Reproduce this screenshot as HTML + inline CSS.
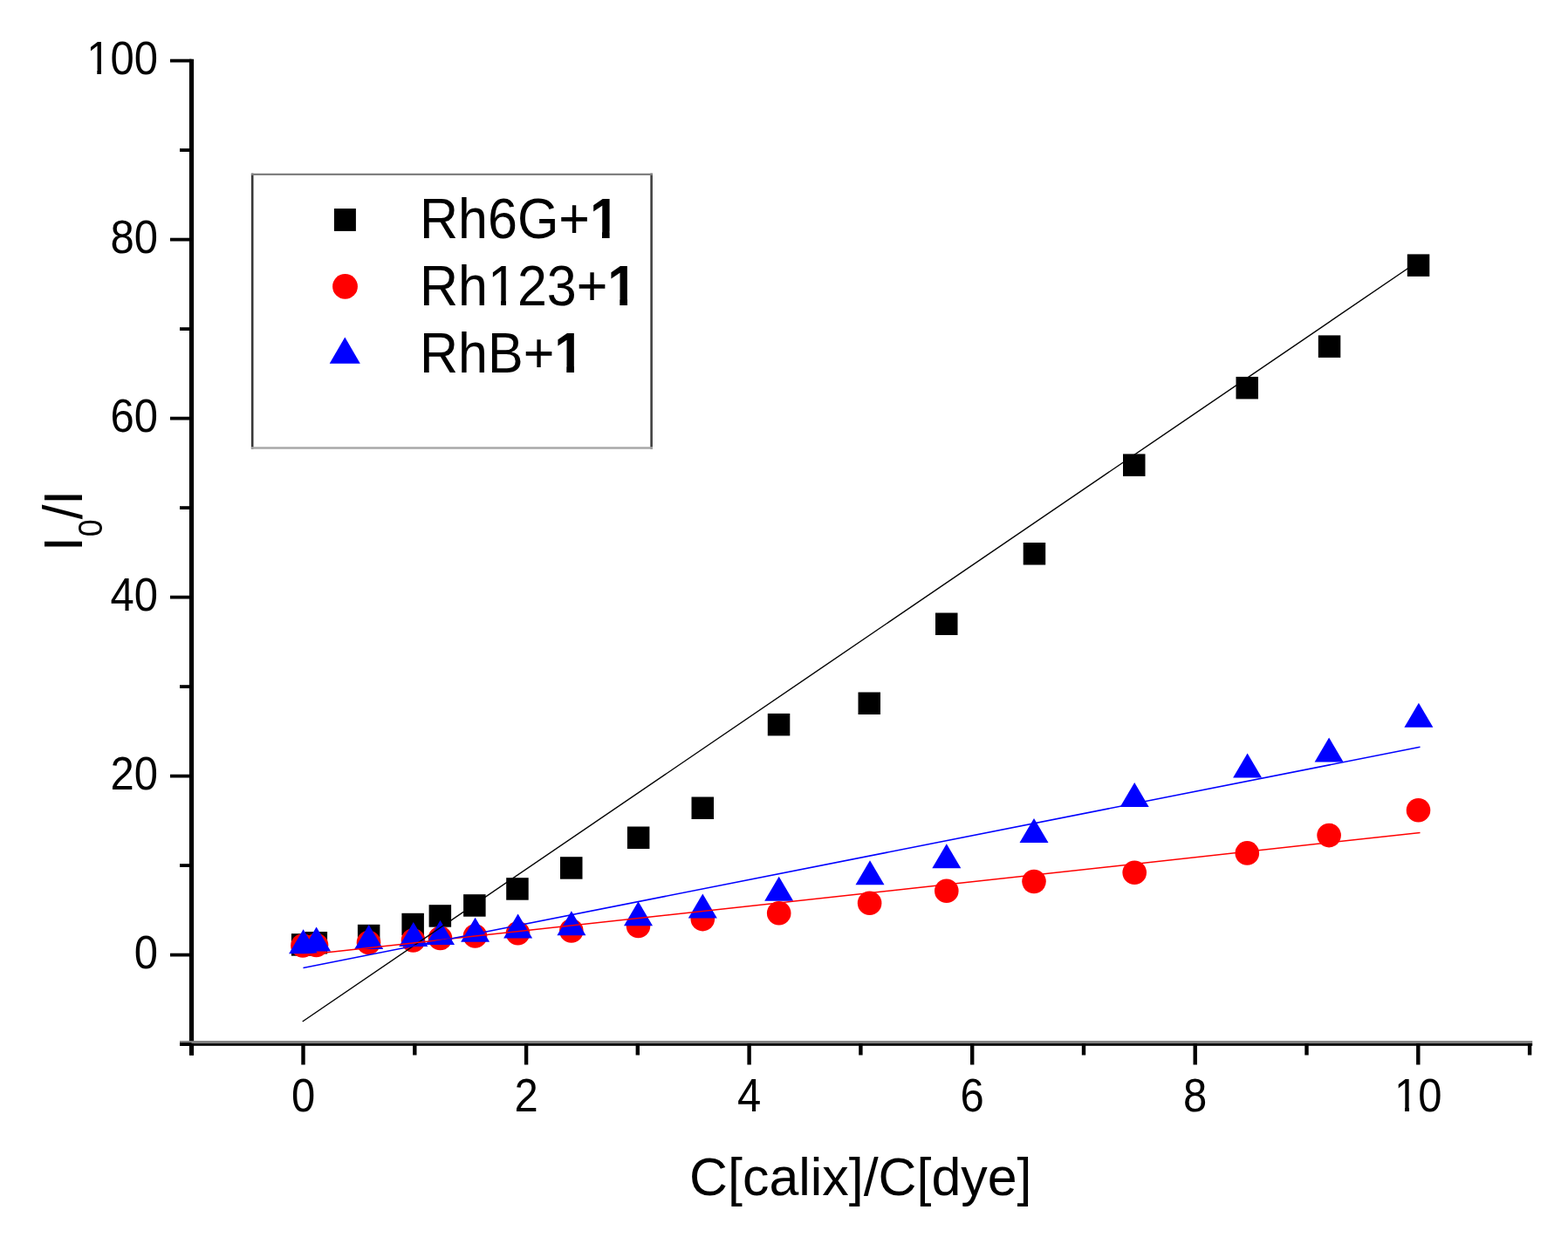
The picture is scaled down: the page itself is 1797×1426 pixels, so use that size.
<!DOCTYPE html><html><head><meta charset="utf-8"><title>Stern-Volmer plot</title>
<style>html,body{margin:0;padding:0;background:#fff;}svg{display:block;}text{font-family:"Liberation Sans", Arial, Helvetica, sans-serif;fill:#000;}</style></head><body>
<svg width="1797" height="1426" viewBox="0 0 1797 1426">
<rect x="0" y="0" width="1797" height="1426" fill="#fff"/>
<g fill="#000">
<rect x="333.9" y="1070.2" width="25.5" height="25.5"/>
<rect x="349.6" y="1068.0" width="25.5" height="25.5"/>
<rect x="409.9" y="1059.8" width="25.5" height="25.5"/>
<rect x="460.4" y="1046.8" width="25.5" height="25.5"/>
<rect x="491.6" y="1037.2" width="25.5" height="25.5"/>
<rect x="531.1" y="1025.2" width="25.5" height="25.5"/>
<rect x="580.2" y="1006.2" width="25.5" height="25.5"/>
<rect x="642.0" y="982.2" width="25.5" height="25.5"/>
<rect x="718.9" y="947.5" width="25.5" height="25.5"/>
<rect x="792.5" y="913.5" width="25.5" height="25.5"/>
<rect x="879.8" y="817.9" width="25.5" height="25.5"/>
<rect x="983.5" y="793.5" width="25.5" height="25.5"/>
<rect x="1072.0" y="702.5" width="25.5" height="25.5"/>
<rect x="1172.7" y="622.0" width="25.5" height="25.5"/>
<rect x="1287.0" y="520.4" width="25.5" height="25.5"/>
<rect x="1416.5" y="431.9" width="25.5" height="25.5"/>
<rect x="1510.8" y="384.4" width="25.5" height="25.5"/>
<rect x="1612.8" y="291.4" width="25.5" height="25.5"/>
</g>
<g fill="#ff0000">
<circle cx="347.0" cy="1084.0" r="13.8"/>
<circle cx="362.5" cy="1083.5" r="13.8"/>
<circle cx="422.5" cy="1080.5" r="13.8"/>
<circle cx="473.5" cy="1078.0" r="13.8"/>
<circle cx="504.5" cy="1075.5" r="13.8"/>
<circle cx="544.5" cy="1073.0" r="13.8"/>
<circle cx="593.5" cy="1069.7" r="13.8"/>
<circle cx="654.8" cy="1067.0" r="13.8"/>
<circle cx="731.5" cy="1061.5" r="13.8"/>
<circle cx="805.3" cy="1053.6" r="13.8"/>
<circle cx="892.7" cy="1046.7" r="13.8"/>
<circle cx="996.6" cy="1035.2" r="13.8"/>
<circle cx="1084.8" cy="1021.3" r="13.8"/>
<circle cx="1185.0" cy="1010.5" r="13.8"/>
<circle cx="1300.2" cy="1000.3" r="13.8"/>
<circle cx="1429.3" cy="977.9" r="13.8"/>
<circle cx="1523.1" cy="957.6" r="13.8"/>
<circle cx="1625.5" cy="928.8" r="13.8"/>
</g>
<g fill="#0000ff">
<polygon points="347.6,1065.2 364.1,1093.2 331.1,1093.2"/>
<polygon points="362.6,1062.5 379.1,1090.5 346.1,1090.5"/>
<polygon points="422.7,1060.0 439.2,1088.0 406.2,1088.0"/>
<polygon points="473.8,1057.0 490.3,1085.0 457.3,1085.0"/>
<polygon points="504.5,1055.0 521.0,1083.0 488.0,1083.0"/>
<polygon points="544.6,1051.8 561.1,1079.8 528.1,1079.8"/>
<polygon points="593.6,1047.5 610.1,1075.5 577.1,1075.5"/>
<polygon points="654.9,1044.2 671.4,1072.2 638.4,1072.2"/>
<polygon points="731.5,1033.3 748.0,1061.3 715.0,1061.3"/>
<polygon points="805.3,1024.5 821.8,1052.5 788.8,1052.5"/>
<polygon points="892.7,1004.8 909.2,1032.8 876.2,1032.8"/>
<polygon points="997.0,986.2 1013.5,1014.2 980.5,1014.2"/>
<polygon points="1084.8,967.3 1101.3,995.3 1068.3,995.3"/>
<polygon points="1185.0,938.0 1201.5,966.0 1168.5,966.0"/>
<polygon points="1300.2,896.9 1316.7,924.9 1283.7,924.9"/>
<polygon points="1429.6,863.4 1446.1,891.4 1413.1,891.4"/>
<polygon points="1523.1,845.4 1539.6,873.4 1506.6,873.4"/>
<polygon points="1625.9,805.7 1642.4,833.7 1609.4,833.7"/>
</g>
<line x1="346.7" y1="1171" x2="1625.5" y2="299.5" stroke="#000" stroke-width="1.4"/>
<line x1="347.5" y1="1094.7" x2="1627.5" y2="954.5" stroke="#ff0000" stroke-width="1.5"/>
<line x1="347.5" y1="1109.5" x2="1627.5" y2="856.3" stroke="#0000ff" stroke-width="1.5"/>
<g stroke="#000" fill="none">
<line x1="219.5" y1="67.7" x2="219.5" y2="1209.7" stroke-width="5.2"/>
<rect x="206" y="1193.1" width="1550.2" height="3" fill="#808080" stroke="none"/>
<rect x="206" y="1196.1" width="1550.2" height="2.7" fill="#000" stroke="none"/>
<line x1="206.0" y1="1197.1" x2="219.5" y2="1197.1" stroke-width="3.8"/>
<line x1="195.0" y1="1094.6" x2="219.5" y2="1094.6" stroke-width="3.8"/>
<line x1="206.0" y1="992.1" x2="219.5" y2="992.1" stroke-width="3.8"/>
<line x1="195.0" y1="889.6" x2="219.5" y2="889.6" stroke-width="3.8"/>
<line x1="206.0" y1="787.1" x2="219.5" y2="787.1" stroke-width="3.8"/>
<line x1="195.0" y1="684.6" x2="219.5" y2="684.6" stroke-width="3.8"/>
<line x1="206.0" y1="582.1" x2="219.5" y2="582.1" stroke-width="3.8"/>
<line x1="195.0" y1="479.6" x2="219.5" y2="479.6" stroke-width="3.8"/>
<line x1="206.0" y1="377.1" x2="219.5" y2="377.1" stroke-width="3.8"/>
<line x1="195.0" y1="274.6" x2="219.5" y2="274.6" stroke-width="3.8"/>
<line x1="206.0" y1="172.1" x2="219.5" y2="172.1" stroke-width="3.8"/>
<line x1="195.0" y1="69.6" x2="219.5" y2="69.6" stroke-width="3.8"/>
<line x1="219.7" y1="1196" x2="219.7" y2="1209.5" stroke-width="4.4"/>
<line x1="347.5" y1="1196" x2="347.5" y2="1220.5" stroke-width="4.4"/>
<line x1="475.3" y1="1196" x2="475.3" y2="1209.5" stroke-width="4.4"/>
<line x1="603.1" y1="1196" x2="603.1" y2="1220.5" stroke-width="4.4"/>
<line x1="730.8" y1="1196" x2="730.8" y2="1209.5" stroke-width="4.4"/>
<line x1="858.6" y1="1196" x2="858.6" y2="1220.5" stroke-width="4.4"/>
<line x1="986.4" y1="1196" x2="986.4" y2="1209.5" stroke-width="4.4"/>
<line x1="1114.2" y1="1196" x2="1114.2" y2="1220.5" stroke-width="4.4"/>
<line x1="1242.0" y1="1196" x2="1242.0" y2="1209.5" stroke-width="4.4"/>
<line x1="1369.7" y1="1196" x2="1369.7" y2="1220.5" stroke-width="4.4"/>
<line x1="1497.5" y1="1196" x2="1497.5" y2="1209.5" stroke-width="4.4"/>
<line x1="1625.3" y1="1196" x2="1625.3" y2="1220.5" stroke-width="4.4"/>
<line x1="1753.1" y1="1196" x2="1753.1" y2="1209.5" stroke-width="4.4"/>
</g>
<g font-size="49" text-anchor="end">
<text transform="translate(181,1109.6) scale(1,1.09)">0</text>
<text transform="translate(181,904.6) scale(1,1.09)">20</text>
<text transform="translate(181,699.6) scale(1,1.09)">40</text>
<text transform="translate(181,494.6) scale(1,1.09)">60</text>
<text transform="translate(181,289.6) scale(1,1.09)">80</text>
<text transform="translate(181,84.6) scale(1,1.09)">100</text>
</g>
<g font-size="49" text-anchor="middle">
<text transform="translate(347.5,1273.8) scale(1,1.09)">0</text>
<text transform="translate(603.1,1273.8) scale(1,1.09)">2</text>
<text transform="translate(858.6,1273.8) scale(1,1.09)">4</text>
<text transform="translate(1114.2,1273.8) scale(1,1.09)">6</text>
<text transform="translate(1369.7,1273.8) scale(1,1.09)">8</text>
<text transform="translate(1625.3,1273.8) scale(1,1.09)">10</text>
</g>
<text transform="translate(986.3,1370) scale(0.982,1)" font-size="62" text-anchor="middle">C[calix]/C[dye]</text>
<text transform="translate(94,597) rotate(-90) scale(1,1.056)" font-size="60" text-anchor="middle">I<tspan font-size="36" dy="22">0</tspan><tspan dy="-22">/I</tspan></text>
<line x1="289.2" y1="198.7" x2="289.2" y2="514.7" stroke="#383838" stroke-width="2.6"/>
<line x1="746.6" y1="198.7" x2="746.6" y2="514.7" stroke="#404040" stroke-width="2.6"/>
<line x1="287.9" y1="199.8" x2="748" y2="199.8" stroke="#808080" stroke-width="2.2"/>
<line x1="287.9" y1="513.4" x2="748" y2="513.4" stroke="#a8a8a8" stroke-width="2.5"/>
<rect x="382.9" y="239.1" width="25" height="25.8" fill="#000"/>
<circle cx="395.5" cy="328.4" r="14.4" fill="#ff0000"/>
<polygon points="395.3,386.6 412.8,416.8 377.7,416.8" fill="#0000ff"/>
<g font-size="61">
<text transform="translate(481,273) scale(1,1.05)">Rh6G+<tspan font-weight="bold">1</tspan></text>
<text transform="translate(481,350) scale(1,1.05)">Rh123+<tspan font-weight="bold">1</tspan></text>
<text transform="translate(481,427) scale(1,1.05)">RhB+<tspan font-weight="bold">1</tspan></text>
</g>
<g fill="#fff">
<rect x="101.5" y="80.6" width="9.8" height="4.6"/>
<rect x="116.0" y="80.6" width="9.4" height="4.6"/>
<rect x="1600.4" y="1269.6" width="9.6" height="4.9"/>
<rect x="1615.0" y="1269.6" width="9.0" height="4.9"/>
<rect x="563.0" y="344.7" width="11.0" height="5.8"/>
<rect x="580.0" y="344.7" width="11.0" height="5.8"/>
<rect x="678.5" y="265.6" width="11.5" height="8.0"/>
<rect x="698.6" y="265.6" width="11.4" height="8.0"/>
<rect x="698.5" y="342.6" width="11.8" height="8.0"/>
<rect x="719.0" y="342.6" width="11.5" height="8.0"/>
<rect x="637.5" y="419.6" width="11.8" height="8.0"/>
<rect x="658.0" y="419.6" width="11.5" height="8.0"/>
</g>
</svg></body></html>
